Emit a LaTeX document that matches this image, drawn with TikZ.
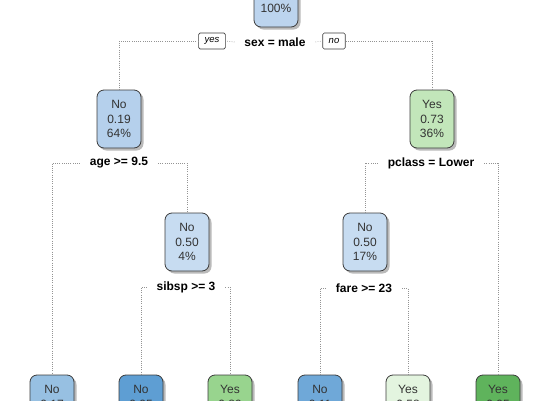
\documentclass[tikz,border=0pt]{standalone}
\usepackage{fontspec}
\setmainfont{Liberation Sans}
\usepackage{tikz}
\definecolor{rootblue}{HTML}{BCD4EE}
\definecolor{nodeblue}{HTML}{B5D0EC}
\definecolor{paleblue}{HTML}{C7DCF1}
\definecolor{palegreen}{HTML}{C2E6BA}
\definecolor{leafA}{HTML}{97C0E2}
\definecolor{leafB}{HTML}{5E9ED3}
\definecolor{leafC}{HTML}{98D48E}
\definecolor{leafD}{HTML}{6FA8D8}
\definecolor{leafE}{HTML}{E3F4DF}
\definecolor{leafF}{HTML}{5FB35C}
\definecolor{edgegray}{HTML}{3C3C3C}
\usetikzlibrary{positioning, shapes, shadows}
\tikzstyle{link} = [draw=gray!85, line width=0.6pt, dash pattern=on 0.7pt off 1.5pt]

\begin{document}
\begin{tikzpicture}[x=1pt,y=-1pt]
                    \tikzstyle{every node}=[font=\fontsize{12}{14.5}\selectfont] \tikzstyle{vertex} =
                    [rectangle, rounded corners=7pt, draw=edgegray, line width=0.8pt,
                    text=black!80, align=center, minimum width=44pt, minimum height=58pt,
                    inner sep=1pt, drop shadow={shadow xshift=2.5pt, shadow yshift=-2.5pt, fill=black!45, opacity=0.6}]
                    \tikzstyle{split} = [font=\fontsize{12}{13}\selectfont\bfseries, inner sep=0pt, outer xsep=10pt]
                    \tikzstyle{tag} = [draw=edgegray, rounded corners=1.5pt, line width=0.6pt,
                    font=\fontsize{9.5}{10}\selectfont\itshape, minimum height=16pt, inner xsep=6pt, inner ysep=1pt]

                    \useasboundingbox (0,0) rectangle (550,400);
                    \clip (0,0) rectangle (550,400);

                    % internal nodes
                    \node[vertex, fill=rootblue](v1) at (276,-2) {~\\0.38\\100\%};
                    \node[vertex, fill=nodeblue](v2) at (119,119) {No\\0.19\\64\%};
                    \node[vertex, fill=palegreen](v3) at (432,119) {Yes\\0.73\\36\%};
                    \node[vertex, fill=paleblue](v4) at (187,242) {No\\0.50\\4\%};
                    \node[vertex, fill=paleblue](v5) at (365,242) {No\\0.50\\17\%};

                    % leaves
                    \node[vertex, fill=leafA](l1) at (52,404) {No\\0.17\\~};
                    \node[vertex, fill=leafB](l2) at (141,404) {No\\0.05\\~};
                    \node[vertex, fill=leafC](l3) at (230,404) {Yes\\0.89\\~};
                    \node[vertex, fill=leafD](l4) at (320,404) {No\\0.11\\~};
                    \node[vertex, fill=leafE](l5) at (408,404) {Yes\\0.58\\~};
                    \node[vertex, fill=leafF](l6) at (498,404) {Yes\\0.95\\~};

                    % split labels
                    \node[split](s1) at (275,42) {sex = male};
                    \node[tag](yes) at (212,41) {yes};
                    \node[tag](no) at (334,41) {no};
                    \node[split](s2) at (119,163) {age >= 9.5};
                    \node[split](s3) at (431,163) {pclass = Lower};
                    \node[split](s4) at (186,287) {sibsp >= 3};
                    \node[split](s5) at (364,288) {fare >= 23};

                    \draw[link] (s1.west) -- (yes.east);
                    \draw[link] (yes.west) -| (v2.north);
                    \draw[link] (s1.east) -- (no.west);
                    \draw[link] (no.east) -| (v3.north);
                    \draw[link] (s2.west) -| (l1.north);
                    \draw[link] (s2.east) -| (v4.north);
                    \draw[link] (s3.west) -| (v5.north);
                    \draw[link] (s3.east) -| (l6.north);
                    \draw[link] (s4.west) -| (l2.north);
                    \draw[link] (s4.east) -| (l3.north);
                    \draw[link] (s5.west) -| (l4.north);
                    \draw[link] (s5.east) -| (l5.north);
        
            \end{tikzpicture}
\end{document}
